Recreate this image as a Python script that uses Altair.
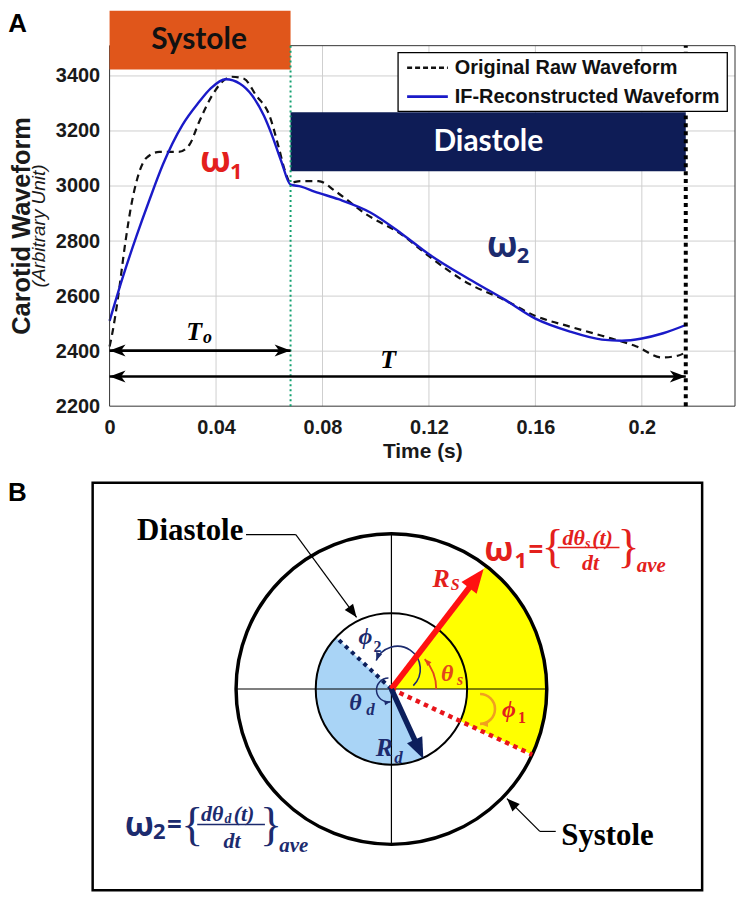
import altair as alt
import numpy as np
import pandas as pd

# ---------------- Panel A values ----------------
t_raw = [0.0, 0.0012, 0.003, 0.006, 0.0082, 0.0105, 0.0138, 0.0187, 0.026, 0.030, 0.0336, 0.0386,
         0.043, 0.046, 0.0505, 0.055, 0.060, 0.0636, 0.066, 0.068, 0.0715, 0.0785, 0.085, 0.096,
         0.110, 0.120, 0.135, 0.148, 0.160, 0.173, 0.185, 0.198, 0.2075, 0.2138, 0.2155]
v_raw = [2417, 2474, 2583, 2800, 2933, 3030, 3102, 3124, 3124, 3150, 3232, 3330,
         3385, 3397, 3390, 3330, 3258, 3139, 3052, 3012, 3018, 3018, 2980, 2900,
         2822, 2745, 2645, 2588, 2528, 2489, 2456, 2417, 2377, 2384, 2391]
t_if = [0.0, 0.005, 0.010, 0.015, 0.020, 0.0274, 0.0336, 0.038, 0.0437, 0.049, 0.0535, 0.058,
        0.061, 0.0645, 0.068, 0.072, 0.077, 0.086, 0.098, 0.110, 0.120, 0.135, 0.148, 0.160,
        0.173, 0.185, 0.1925, 0.200, 0.208, 0.2165]
v_if = [2510, 2670, 2815, 2950, 3077, 3222, 3305, 3355, 3388, 3372, 3330, 3255,
        3185, 3090, 3005, 2998, 2980, 2952, 2904, 2825, 2752, 2662, 2590, 2518,
        2471, 2442, 2438, 2446, 2465, 2495]
series_names = ["Original Raw Waveform", "IF-Reconstructed Waveform"]
x_ticks = [0, 0.04, 0.08, 0.12, 0.16, 0.2]
y_ticks = [2200, 2400, 2600, 2800, 3000, 3200, 3400]
T_o = 0.068      # end of systole
T_end = 0.2165   # end of cycle

# ---------------- Panel B values (angles in degrees, radii) ----------------
R_out, R_in = 156, 76
ang_Rs, len_Rs = 52.5, 152
ang_Rd, len_Rd = -65.4, 77
ang_sys_end = -25      # red dotted
ang_dia_start = 137    # navy dotted

NAVY = "#1c2b6e"
RED = "#e3201c"
ORANGE_RED = "#e2451c"
GRID = "#cfcfcf"

# ---------------- Panel A ----------------
X_MAX, Y_MIN, Y_MAX = 0.235, 2200, 3510
xA = alt.Scale(domain=[0, X_MAX], nice=False, zero=False)
yA = alt.Scale(domain=[Y_MIN, Y_MAX], nice=False, zero=False)

axis_x = alt.Axis(values=x_ticks, format="~g", title="Time (s)", grid=False,
                  domain=False, ticks=False, labelFont="Liberation Sans", labelFontSize=20,
                  labelFontWeight="bold", labelColor="#1a1a1a", labelPadding=11, labelFlush=False,
                  titleFont="Liberation Sans", titleFontSize=21, titleFontWeight="bold",
                  titleColor="#1a1a1a", titlePadding=4)
axis_y = alt.Axis(values=y_ticks, format="d", title=None, grid=False, domain=False,
                  ticks=False, labelFont="Liberation Sans", labelFontSize=20, labelFontWeight="bold",
                  labelColor="#1a1a1a", labelPadding=10)


def XA(f):
    return alt.X(f, scale=xA, axis=axis_x)


def YA(f):
    return alt.Y(f, scale=yA, axis=axis_y)


raw_df = pd.DataFrame({"t": t_raw, "v": v_raw})
if_df = pd.DataFrame({"t": t_if, "v": v_if})

# grid lines from the tick arrays
vgrid = alt.Chart(pd.DataFrame({"t": x_ticks[1:], "y1": Y_MIN, "y2": Y_MAX})).mark_rule(
    color=GRID, strokeWidth=1).encode(x=XA("t:Q"), y=YA("y1:Q"), y2="y2:Q")
hgrid = alt.Chart(pd.DataFrame({"v": y_ticks[1:], "x1": 0, "x2": X_MAX})).mark_rule(
    color=GRID, strokeWidth=1).encode(y=YA("v:Q"), x=XA("x1:Q"), x2="x2:Q")

raw_line = alt.Chart(raw_df).mark_line(interpolate="monotone", color="#111111", strokeWidth=2.2,
                                       strokeDash=[7, 5]).encode(x=XA("t:Q"), y=YA("v:Q"))
if_line = alt.Chart(if_df).mark_line(interpolate="monotone", color="#1a1ac8", strokeWidth=2.4).encode(
    x=XA("t:Q"), y=YA("v:Q"))

border = alt.Chart(pd.DataFrame({"x1": [0], "x2": [X_MAX], "y1": [Y_MIN], "y2": [Y_MAX]})).mark_rect(
    filled=False, color="#333333", strokeWidth=1).encode(x=XA("x1:Q"), x2="x2:Q", y=YA("y1:Q"), y2="y2:Q")

boxes = alt.Chart(pd.DataFrame({"x1": [0, T_o], "x2": [T_o, T_end], "y1": [3423, 3054], "y2": [3637, 3268],
                                "fill": ["#E0561B", "#0E1C56"]})).mark_rect().encode(
    x=XA("x1:Q"), x2="x2:Q", y=YA("y1:Q"), y2="y2:Q", color=alt.Color("fill:N", scale=None))

green_rule = alt.Chart(pd.DataFrame({"t": [T_o], "y1": [Y_MIN], "y2": [Y_MAX]})).mark_rule(
    color="#12a070", strokeWidth=2, strokeDash=[2, 3]).encode(x=XA("t:Q"), y=YA("y1:Q"), y2="y2:Q")
end_rule = alt.Chart(pd.DataFrame({"t": [T_end], "y1": [Y_MIN], "y2": [Y_MAX]})).mark_rule(
    color="#000000", strokeWidth=4, strokeDash=[4, 4]).encode(x=XA("t:Q"), y=YA("y1:Q"), y2="y2:Q")

arrowsA = alt.Chart(pd.DataFrame({"x1": [0, 0], "x2": [T_o, T_end], "y": [2402, 2308]})).mark_rule(
    color="black", strokeWidth=2.6).encode(x=XA("x1:Q"), x2="x2:Q", y=YA("y:Q"))
BARB = "M0,0L0.75,2L0,1.45L-0.75,2Z"
TRI = "M0,0L0.8,2L-0.8,2Z"
headsA = alt.Chart(pd.DataFrame({"x": [0, T_o, 0, T_end], "y": [2402, 2402, 2308, 2308],
                                 "rot": [270, 90, 270, 90]})).mark_point(
    shape=BARB, filled=True, color="black", opacity=1, size=256, strokeWidth=0).encode(
    x=XA("x:Q"), y=YA("y:Q"), angle=alt.Angle("rot:Q", scale=None))


def text_layer(df, X, Y, font, weight="bold", style="normal", angle=0, align="center"):
    return alt.Chart(df).mark_text(font=font, fontWeight=weight, fontStyle=style, angle=angle,
                                   align=align, baseline="middle").encode(
        x=X("x:Q"), y=Y("y:Q"), text="label:N",
        color=alt.Color("col:N", scale=None), size=alt.Size("size:Q", scale=None))


def tdf(rows):
    return pd.DataFrame(rows, columns=["label", "x", "y", "size", "col"])


txtA_lato = text_layer(tdf([["Systole", 0.0336, 3530, 30, "#111111"],
                            ["Diastole", 0.1423, 3161, 30, "#ffffff"]]), XA, YA, "Lato")
txtA_greek = text_layer(tdf([["ω", 0.0398, 3092, 36, RED], ["1", 0.0476, 3052, 22, RED],
                             ["ω", 0.1475, 2781, 36, NAVY], ["2", 0.1553, 2744, 22, NAVY]]),
                        XA, YA, "Open Sans")
txtA_serif = text_layer(tdf([["T", 0.0318, 2471, 26, "#000000"], ["o", 0.0368, 2446, 18, "#000000"],
                             ["T", 0.1047, 2366, 26, "#000000"]]), XA, YA, "Liberation Serif",
                        style="italic")
txtA_A = text_layer(tdf([["A", -0.0346, 3590, 26, "#000000"]]), XA, YA, "Liberation Sans")
ytitle1 = text_layer(tdf([["Carotid Waveform", -0.0328, 2855, 25.5, "#1a1a1a"]]), XA, YA,
                     "Liberation Sans", angle=270)
ytitle2 = text_layer(tdf([["(Arbitrary Unit)", -0.0266, 2855, 19, "#1a1a1a"]]), XA, YA,
                     "Liberation Sans", weight="normal", style="italic", angle=270)

leg_box = alt.Chart(pd.DataFrame({"x1": [0.1084], "x2": [0.2321], "y1": [3271], "y2": [3485]})).mark_rect(
    fill="white", stroke="black", strokeWidth=1.3).encode(x=XA("x1:Q"), x2="x2:Q", y=YA("y1:Q"), y2="y2:Q")
leg_raw = alt.Chart(pd.DataFrame({"x1": [0.1118], "x2": [0.1271], "y": [3430]})).mark_rule(
    color="#111111", strokeWidth=2.4, strokeDash=[5, 3]).encode(x=XA("x1:Q"), x2="x2:Q", y=YA("y:Q"))
leg_if = alt.Chart(pd.DataFrame({"x1": [0.1118], "x2": [0.1271], "y": [3325]})).mark_rule(
    color="#1a1ac8", strokeWidth=2.6).encode(x=XA("x1:Q"), x2="x2:Q", y=YA("y:Q"))
leg_txt = text_layer(tdf([[series_names[0], 0.1297, 3430, 20, "#111111"],
                          [series_names[1], 0.1297, 3325, 20, "#111111"]]), XA, YA,
                     "Liberation Sans", align="left")

panelA = alt.layer(vgrid, hgrid, raw_line, if_line, border, boxes, green_rule, end_rule, arrowsA, headsA,
                   txtA_lato, txtA_greek, txtA_serif, txtA_A, ytitle1, ytitle2,
                   leg_box, leg_raw, leg_if, leg_txt).properties(width=628, height=362)

# ---------------- Panel B ----------------
xB = alt.Scale(domain=[-283, 345], nice=False, zero=False)
yB = alt.Scale(domain=[-202, 207], nice=False, zero=False)


def XB(f):
    return alt.X(f, scale=xB, axis=None)


def YB(f):
    return alt.Y(f, scale=yB, axis=None)


def vt(a):
    return float(np.radians(90 - a))


def pol(r, a, cx=0.0, cy=0.0):
    return cx + r * np.cos(np.radians(a)), cy + r * np.sin(np.radians(a))


def arc_enc(ch):
    return ch.encode(x=XB("cx:Q"), y=YB("cy:Q"),
                     theta=alt.Theta("t1:Q", scale=None, stack=False), theta2="t2:Q",
                     radius=alt.Radius("ro:Q", scale=None), radius2="ri:Q")


sectors = pd.DataFrame({
    "cx": [0, 0, 0], "cy": [0, 0, 0],
    "t1": [vt(ang_Rs), vt(0), vt(295)],
    "t2": [vt(0), vt(ang_sys_end), vt(ang_dia_start)],
    "ro": [R_out, R_out, R_in], "ri": [0, R_in, 0],
    "fill": ["#ffff00", "#ffff00", "#a9d4f6"]})
sector_layer = arc_enc(alt.Chart(sectors).mark_arc(strokeWidth=0)).encode(
    color=alt.Color("fill:N", scale=None))

frame = alt.Chart(pd.DataFrame({"x1": [-300], "x2": [312], "y1": [-202], "y2": [207]})).mark_rect(
    filled=False, color="black", strokeWidth=2.5).encode(x=XB("x1:Q"), x2="x2:Q", y=YB("y1:Q"), y2="y2:Q")

segs = pd.DataFrame({
    "x1": [-R_out, 0, -146, -96, 165, 149],
    "y1": [0, -R_out, 155, 155, -143, -143],
    "x2": [R_out, 0, -96, -35, 149, 116],
    "y2": [0, R_out, 155, 72, -143, -110]})
seg_layer = alt.Chart(segs).mark_rule(color="black", strokeWidth=1.2).encode(
    x=XB("x1:Q"), y=YB("y1:Q"), x2="x2:Q", y2="y2:Q")

outl = pd.DataFrame({
    "cx": [0, 0, 0, -3, 6, 89],
    "cy": [0, 0, 0, -1, 20, -20],
    "t1": [0.0, 0.0, vt(42), vt(280), vt(158), vt(90)],
    "t2": [2 * np.pi, 2 * np.pi, vt(0), vt(90), vt(-46), vt(-90)],
    "ro": [R_out, R_in, 45, 12, 23, 15],
    "ri": [0, 0, 45, 12, 23, 15],
    "col": ["black", "black", ORANGE_RED, NAVY, NAVY, "#f0a020"],
    "w": [3.5, 2, 1.8, 1.5, 1.6, 2.6]})
outl_layer = arc_enc(alt.Chart(outl).mark_arc(filled=False)).encode(
    stroke=alt.Stroke("col:N", scale=None), strokeWidth=alt.StrokeWidth("w:Q", scale=None))

rx, ry = pol(R_out, ang_sys_end)
nx, ny = pol(R_in, ang_dia_start)
red_dot = alt.Chart(pd.DataFrame({"x1": [0], "y1": [0], "x2": [rx], "y2": [ry]})).mark_rule(
    color="#e8141a", strokeWidth=4.5, strokeDash=[4.5, 4.5]).encode(
    x=XB("x1:Q"), y=YB("y1:Q"), x2="x2:Q", y2="y2:Q")
navy_dot = alt.Chart(pd.DataFrame({"x1": [0], "y1": [0], "x2": [nx], "y2": [ny]})).mark_rule(
    color="#0c1f5c", strokeWidth=4, strokeDash=[4, 4.5]).encode(
    x=XB("x1:Q"), y=YB("y1:Q"), x2="x2:Q", y2="y2:Q")

sx, sy = pol(len_Rs - 14, ang_Rs)
dx_, dy_ = pol(len_Rd - 14, ang_Rd)
shafts = alt.Chart(pd.DataFrame({"x1": [0, 0], "y1": [0, 0], "x2": [sx, dx_], "y2": [sy, dy_],
                                 "col": ["#ff1111", "#0c1f5c"], "w": [6, 5.5]})).mark_rule(
    strokeCap="butt").encode(x=XB("x1:Q"), y=YB("y1:Q"), x2="x2:Q", y2="y2:Q",
                             color=alt.Color("col:N", scale=None),
                             strokeWidth=alt.StrokeWidth("w:Q", scale=None))

tsx, tsy = pol(len_Rs, ang_Rs)
tdx, tdy = pol(len_Rd, ang_Rd)
thx, thy = pol(45, 42)
tdd = pol(12, 280, -3, -1)
tp2 = pol(23, 158, 6, 20)
heads = pd.DataFrame({
    "x": [tsx, tdx, -35, 116, thx, tdd[0], tp2[0], 89],
    "y": [tsy, tdy, 72, -110, thy, tdd[1], tp2[1], -35],
    "rot": [90 - ang_Rs, 90 - ang_Rd, 143.7, 315, 318, 80, 202, 270],
    "size": [576, 441, 169, 169, 49, 36, 64, 64],
    "col": ["#ff1111", "#0c1f5c", "black", "black", ORANGE_RED, NAVY, NAVY, "#f0a020"]})
head_layer = alt.Chart(heads).mark_point(shape=TRI, filled=True, opacity=1, strokeWidth=0).encode(
    x=XB("x:Q"), y=YB("y:Q"), angle=alt.Angle("rot:Q", scale=None),
    size=alt.Size("size:Q", scale=None), color=alt.Color("col:N", scale=None))

frac = alt.Chart(pd.DataFrame({"x1": [167, -195], "x2": [229, -127], "y": [142, -136],
                               "col": [RED, NAVY]})).mark_rule(strokeWidth=1.5).encode(
    x=XB("x1:Q"), x2="x2:Q", y=YB("y:Q"), color=alt.Color("col:N", scale=None))

txtB_label = text_layer(tdf([["Diastole", -202, 159, 31, "#000000"],
                             ["Systole", 217, -148, 31, "#000000"]]), XB, YB, "Liberation Serif")
txtB_B = text_layer(tdf([["B", -375.5, 197, 26, "#000000"]]), XB, YB, "Liberation Sans")
txtB_bi = text_layer(tdf([
    ["R", 50, 110.5, 26, RED], ["S", 64, 104, 16, RED],
    ["θ", 56, 15.5, 24, ORANGE_RED], ["s", 69, 9, 16, ORANGE_RED],
    ["ϕ", 118, -21, 24, RED],
    ["ϕ", -26, 52, 24, NAVY],
    ["θ", -36, -14, 24, NAVY], ["d", -21, -21, 17, NAVY],
    ["R", -7, -59, 26, NAVY], ["d", 7, -69, 17, NAVY],
    ["dθ", 183, 152, 22, RED], ["s", 197, 146, 14, RED], ["(t)", 212, 152, 22, RED],
    ["dt", 200, 127, 22, RED], ["ave", 261, 124, 21, RED],
    ["dθ", -180, -126, 22, NAVY], ["d", -164, -131, 14, NAVY], ["(t)", -148, -126, 22, NAVY],
    ["dt", -160, -153, 22, NAVY], ["ave", -98, -158, 21, NAVY]]), XB, YB, "Liberation Serif",
    style="italic")
txtB_sub = text_layer(tdf([["1", 131, -29, 16, RED], ["2", -14, 42, 16, NAVY]]), XB, YB,
                      "Liberation Serif")
txtB_greek = text_layer(tdf([
    ["ω", 108, 139, 34, RED], ["1", 130, 129, 22, RED], ["=", 145, 139, 26, RED],
    ["ω", -253, -138, 34, NAVY], ["2", -233, -144, 22, NAVY], ["=", -218, -138, 26, NAVY]]),
    XB, YB, "Open Sans")
txtB_brace = text_layer(tdf([["{", 162, 142, 46, RED], ["}", 238, 142, 46, RED],
                             ["{", -200, -138, 46, NAVY], ["}", -121, -138, 46, NAVY]]),
                        XB, YB, "Liberation Serif", weight="normal")

panelB = alt.layer(sector_layer, frame, seg_layer, outl_layer, red_dot, navy_dot, shafts, head_layer,
                   frac, txtB_label, txtB_B, txtB_bi, txtB_sub, txtB_greek, txtB_brace).properties(
    width=628, height=409)

chart = alt.vconcat(panelA, panelB, spacing=77, bounds="flush", padding=0).configure_view(strokeWidth=0)
chart.save("out.html", embed_options={"renderer": "svg", "actions": False})
